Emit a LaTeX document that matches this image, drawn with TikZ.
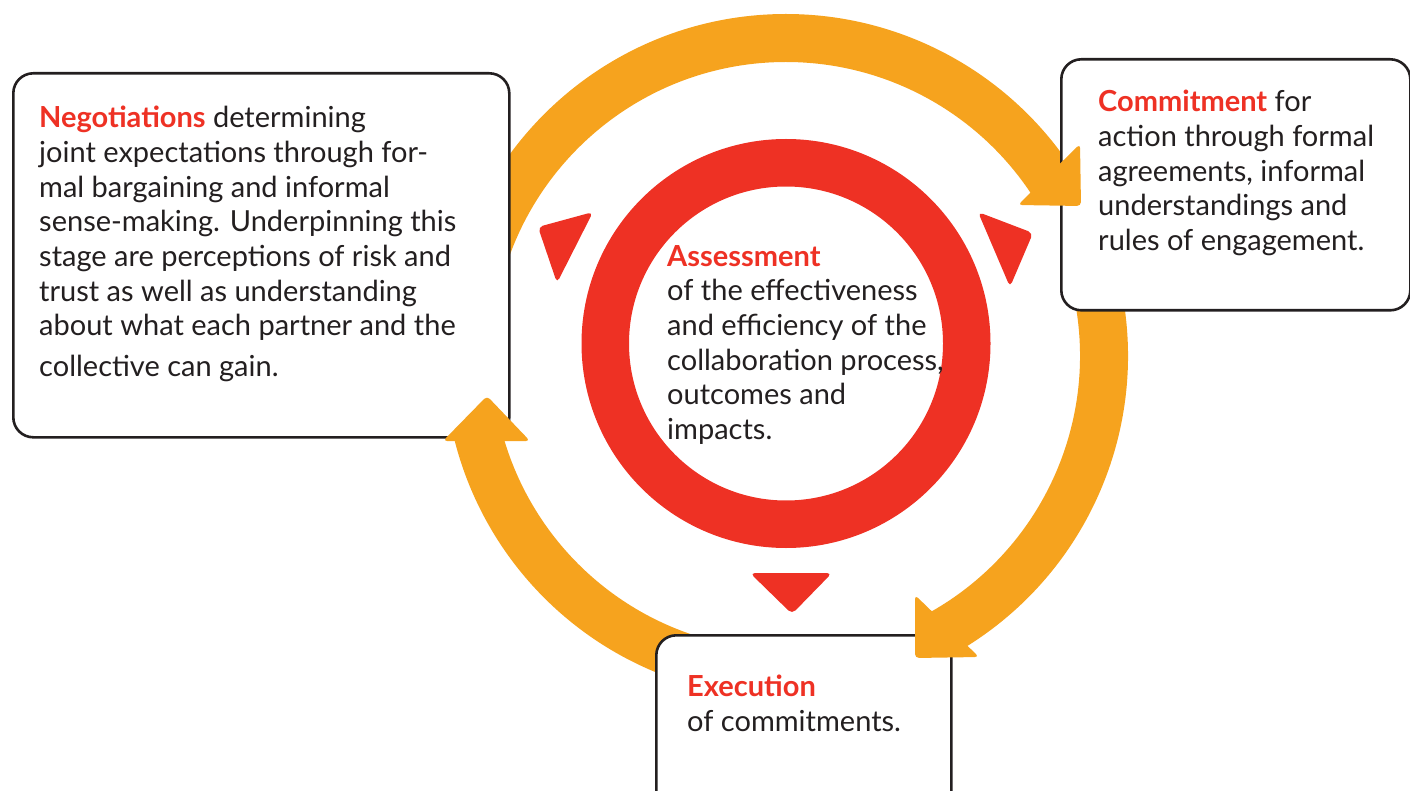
\documentclass[tikz,border=0pt]{standalone}
\usepackage{fontspec}
\setmainfont{Lato}
\definecolor{txt}{HTML}{231F20}
\definecolor{hred}{HTML}{EE3124}
\definecolor{orng}{HTML}{F6A31E}
\begin{document}
\begin{tikzpicture}[x=1pt,y=1pt,
  box/.style={draw=txt,line width=2.6pt,fill=white,rounded corners=20pt,inner sep=0pt,anchor=north west},
  band/.style={orng,line width=48pt},
  head/.style={fill=orng,rounded corners=4pt},
  tri/.style={fill=hred,rounded corners=5pt},
  body/.style={text=txt,align=left,anchor=north west,inner sep=0pt,font=\fontsize{29}{34.7}\selectfont}]
\useasboundingbox (0,0) rectangle (1410,-791);
% centres
\coordinate (oc) at (786,-356);
\coordinate (rc) at (786,-343.5);
% orange ring bands
\draw[band] (oc) ++(180:318pt) arc[start angle=180,end angle=33.5,radius=318pt];
\draw[band] (oc) ++(15:318pt) arc[start angle=15,end angle=-60.5,radius=318pt];
\draw[band] (oc) ++(255:318pt) arc[start angle=255,end angle=193,radius=318pt];
% red ring
\draw[hred,line width=47.5pt] (rc) circle[radius=180.75pt];
% red triangles
\fill[tri] (538,-227) -- (593,-212) -- (557,-283) -- cycle;
\fill[tri] (978,-212) -- (1033,-233) -- (1010,-287) -- cycle;
\fill[tri] (750,-573) -- (832,-573) -- (792,-614) -- cycle;
% boxes
\node[box,minimum width=496pt,minimum height=364pt] (negbox) at (12,-72) {};
\node[box,minimum width=349pt,minimum height=251pt] (combox) at (1060,-58) {};
\node[box,minimum width=295pt,minimum height=180pt] (exebox) at (655,-634) {};
% arrowheads
\fill[head] (1080,-144) -- (1018,-205) -- (1081,-206) -- cycle;
\fill[head] (915,-595) -- (979,-657) -- (915,-658) -- cycle;
\fill[head] (487,-396) -- (443,-441) -- (530,-441) -- cycle;
% texts
\node[body] (negtxt) at (39,-106) {{\color{hred}\bfseries Negotiations} determining\\
joint expectations through for-\\
mal bargaining and informal\\
sense-making. Underpinning this\\
stage are perceptions of risk and\\
trust as well as understanding\\
about what each partner and the\\[6pt]
collective can gain.};
\node[body] (comtxt) at (1098,-90) {{\color{hred}\bfseries Commitment} for\\
action through formal\\
agreements, informal\\
understandings and\\
rules of engagement.};
\node[body] (asstxt) at (667,-245) {{\color{hred}\bfseries Assessment}\\
of the effectiveness\\
and efficiency of the\\
collaboration process,\\
outcomes and\\
impacts.};
\node[body] (exetxt) at (687,-675) {{\color{hred}\bfseries Execution}\\
of commitments.};
\end{tikzpicture}
\end{document}
